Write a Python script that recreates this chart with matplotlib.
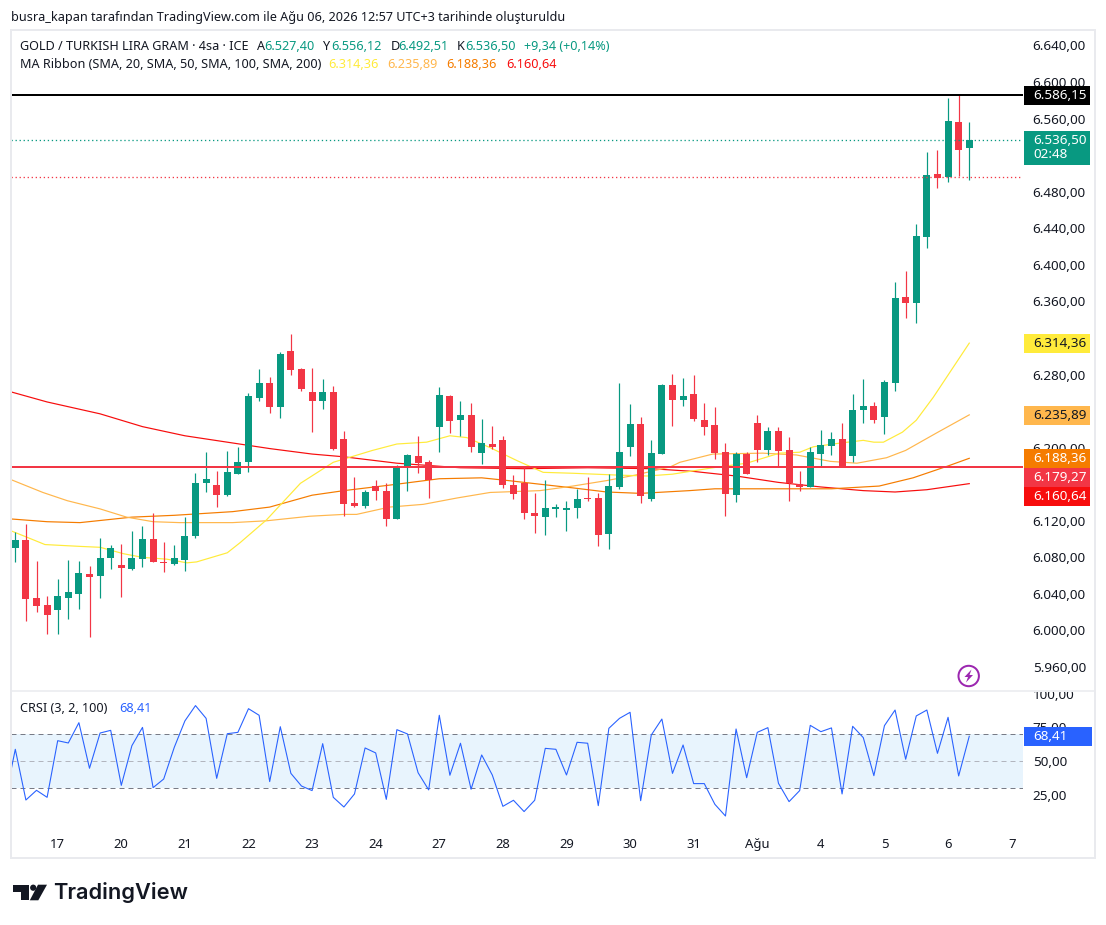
import matplotlib
matplotlib.use("Agg")
import matplotlib.pyplot as plt
from matplotlib.patches import Rectangle, Polygon, Circle
from matplotlib.transforms import Bbox

plt.rcParams['font.family'] = ['Noto Sans', 'DejaVu Sans']

opens = [6090,6099,6035,6028,6022,6035,6040,6062,6060,6079,6072,6067,6078,6100,6075,6073,6077,6103,6161,6159,
         6148,6171,6184,6254,6271,6245,6306,6286,6261,6251,6261,6210,6139,6136,6158,6153,6122,6178,6191,6184,
         6223,6256,6230,6236,6194,6204,6208,6159,6161,6128,6124,6133,6132,6134,6145,6145,6106,6157,6201,6226,
         6144,6193,6269,6252,6259,6230,6225,6195,6148,6193,6227,6197,6218,6197,6160,6157,6193,6202,6210,6191,
         6241,6246,6233,6271,6365,6358,6430,6499,6496,6556,6527.40]
highs = [6108,6116,6076,6038,6056,6077,6076,6070,6101,6093,6095,6109,6114,6128,6097,6093,6124,6172,6195,6175,
         6196,6201,6260,6286,6277,6305,6324,6287,6287,6275,6268,6218,6168,6154,6165,6161,6181,6193,6213,6186,
         6266,6258,6251,6249,6231,6224,6213,6170,6179,6150,6165,6138,6142,6155,6168,6150,6171,6271,6248,6234,
         6208,6270,6281,6276,6280,6249,6244,6205,6195,6195,6236,6223,6223,6212,6175,6201,6219,6217,6227,6259,
         6275,6250,6274,6381,6393,6445,6523,6526,6582,6586.15,6556.12]
lows = [6075,6010,6020,5996,5996,6013,6023,5993,6035,6067,6037,6066,6069,6075,6064,6072,6065,6101,6151,6135,
        6147,6171,6173,6251,6238,6232,6280,6262,6217,6242,6197,6125,6135,6134,6143,6114,6122,6153,6172,6145,
        6195,6216,6213,6195,6182,6199,6156,6144,6122,6107,6104,6124,6109,6123,6142,6092,6089,6155,6191,6139,
        6142,6193,6224,6246,6229,6214,6188,6125,6141,6171,6184,6192,6179,6142,6153,6157,6179,6192,6179,6184,
        6227,6227,6215,6262,6342,6336,6418,6484,6491,6497,6492.51]
closes = [6099,6034,6027,6017,6038,6042,6063,6058,6079,6090,6068,6079,6100,6075,6074,6079,6103,6161,6166,6148,
          6173,6184,6256,6271,6245,6302,6285,6264,6251,6261,6198,6138,6136,6151,6153,6122,6179,6192,6183,6165,
          6258,6229,6236,6201,6205,6201,6159,6149,6128,6125,6134,6135,6134,6144,6144,6104,6158,6195,6226,6147,
          6194,6269,6252,6256,6231,6223,6194,6149,6193,6171,6197,6218,6196,6161,6157,6195,6203,6210,6179,6241,
          6246,6230,6272,6364,6358,6431,6498,6495,6557,6526,6536.50]

ma20_idx = [-0.4,1.1,2.8,6.1,8,10.2,12,14.3,16.2,17.1,20,21.2,23.7,26.9,30,33.7,36,38.8,41,42.6,44.8,47.3,49.8,52.6,
            56.8,59.6,62,65.8,69,72.1,74,75.3,77.8,80,81,81.9,83.7,85,86.6,90]
ma20 = [6109,6102,6094,6092,6091,6084,6080,6078,6074,6075,6085,6096,6121,6161,6184,6197,6204,6206,6213,6211,6200,6186,6173,6172,
        6170,6169,6171,6178,6183,6194,6195,6201,6205,6208,6206,6206,6217,6230,6255,6314.36]
ma50_idx = [-0.4,2.6,4.9,8,10.5,13,15.5,20.5,23.7,27.8,31,32.2,35.3,38.5,41.7,44.8,49.5,52.6,55.8,58.5,61.8,62.7,65.8,70.5,
            73.7,76.9,79.4,82.2,84,86.9,90]
ma50 = [6165,6151,6142,6133,6124,6119,6118,6118,6120,6125,6127,6127,6135,6138,6145,6151,6153,6158,6164,6170,6179,6184,6193,6194,
        6192,6185,6183,6189,6197,6216,6235.89]
ma100_idx = [-0.4,3,6.1,11,15,20.5,24,28,31,35.3,40,44,46.5,49.5,52.6,55.8,59,63.6,66,72,77,81.5,84.7,88,90]
ma100 = [6122,6119,6118,6124,6126,6130,6135,6148,6153,6159,6166,6167,6164,6160,6156,6151.5,6150,6153,6155,6155,6155,6158,6167,6180,6188.36]
ma200_idx = [-0.4,3,8,12,16,20,24,28,31,36,42,48,54,60,64,68,72,76,80,83,86,90]
ma200 = [6261,6250,6237,6223,6213,6206,6199,6193,6190,6183,6178,6177,6178,6177,6174,6169,6162,6157,6153,6151.5,6154,6160.64]

crsi_start = 43.3
crsi = [58.7,21,28.2,23,65.1,63.4,78.5,44.6,70.8,72.8,31.9,61.4,75,30.2,36.6,60.2,79.8,91.2,81.7,37.1,
        70.3,71.3,88.9,84,34.7,75.5,40.8,31.4,28,62.9,23,15.8,25.5,59.7,56,21.5,73.3,70.1,41.3,28.5,
        84,39.4,63.2,29,54.5,39.6,16.3,20.8,12.4,20.8,59.4,58.7,39.6,63.9,63.2,16.8,74.3,81.7,86.2,20.5,
        69.3,81.2,40.8,61.9,33.2,33.2,17.8,9.1,73.8,37.6,71.3,74.8,33.4,19.8,28,76.5,71.8,74.6,25.5,75.8,
        67.4,39.1,76.3,87.9,51.3,83.5,87.9,55.7,82.5,38.9,68.41]

day_idx = [4,10,16,22,28,34,40,46,52,58,64,70,76,82,88,94]
day_labels = ['17','20','21','22','23','24','27','28','29','30','31','Ağu','4','5','6','7']
# 6160, 6240 and 6520 sit fully behind the price labels in the reference, so they are not listed
price_ticks = [5960,6000,6040,6080,6120,6200,6280,6320,6360,6400,6440,6480,6560,6600,6640]
crsi_ticks = [25,50,75,100]
res_line = 6586.15
sup_line = 6179.27
last_close = 6536.50
low_dot_line = 6496

GREEN = '#089981'; RED = '#F23645'; INK = '#131722'; GRAY = '#E9EAEE'
YEL = '#FFEB3B'; LOR = '#FFB74D'; OR = '#F57C00'; RD = '#F70D0D'; BLUE = '#2962FF'
W, H = 1106, 925
PX = 0.72
AXFS = 9.7
TXFS = 9.1

def tr(v, d=2):
    return f"{v:,.{d}f}".replace(",", "X").replace(".", ",").replace("X", ".")

fig = plt.figure(figsize=(W/100, H/100), dpi=100, facecolor='white')
def pane(l, t, r, b, **kw):
    return fig.add_axes([l/W, 1-b/H, (r-l)/W, (b-t)/H], **kw)

ax = pane(11, 30, 1023, 691)
ax.set_xlim(-0.406, 95.07)
ax.set_ylim(5933.8, 6656.9)
xs = list(range(len(opens)))
ax.plot(ma200_idx, ma200, color=RD, lw=1*PX*1.2, zorder=2)
ax.plot(ma100_idx, ma100, color=OR, lw=1*PX*1.2, zorder=2)
ax.plot(ma50_idx, ma50, color=LOR, lw=1*PX*1.2, zorder=2)
ax.plot(ma20_idx, ma20, color=YEL, lw=1*PX*1.2, zorder=2)
cols = [GREEN if c >= o else RED for o, c in zip(opens, closes)]
ax.vlines(xs, lows, highs, colors=cols, lw=1.2*PX, zorder=3)
ax.bar(xs, [abs(c-o) for o, c in zip(opens, closes)], bottom=[min(o, c) for o, c in zip(opens, closes)],
       width=0.66, color=cols, linewidth=0, zorder=4)
ax.axhline(res_line, color='black', lw=2*PX, zorder=5)
ax.axhline(sup_line, color=RED, lw=2*PX, zorder=5)
ax.axhline(last_close, color=GREEN, lw=1.3*PX, ls=(0, (1, 2.1)), zorder=5)
ax.axhline(low_dot_line, color=RED, lw=1.3*PX, ls=(0, (1, 2.1)), zorder=5)
ax.set_xticks([])
ax.yaxis.tick_right()
ax.set_yticks(price_ticks)
ax.set_yticklabels([tr(v) for v in price_ticks])
ax.tick_params(axis='y', length=0, pad=7, labelsize=AXFS, labelcolor=INK)
for lab, v in zip(ax.get_yticklabels(), price_ticks):
    if v in (6000, 6400):
        lab.set_fontweight('medium')
for s in ax.spines.values():
    s.set_visible(False)

cx = pane(11, 692, 1023, 825)
cx.set_xlim(-0.406, 95.07)
cx.set_ylim(2.42, 101.3)
cx.axhspan(30, 70, color='#2196F3', alpha=0.1, lw=0)
cx.axhline(70, color='#787B86', lw=PX, ls=(0, (5, 4)))
cx.axhline(30, color='#787B86', lw=PX, ls=(0, (5, 4)))
cx.axhline(50, color='#B2B5BE', lw=PX, ls=(0, (5, 4)))
cx.plot([-0.4] + xs, [crsi_start] + crsi, color=BLUE, lw=1.1*PX, zorder=3)
cx.yaxis.tick_right()
cx.set_yticks(crsi_ticks)
cx.set_yticklabels([tr(v) for v in crsi_ticks])
cx.tick_params(axis='y', length=0, pad=7, labelsize=AXFS, labelcolor=INK)
clip = Bbox.from_extents(1023, H-825, 1095, H-692)
for lab in cx.get_yticklabels():
    lab.set_clip_box(clip)
    lab.set_clip_on(True)
cx.set_xticks(day_idx)
cx.set_xticklabels(day_labels)
cx.tick_params(axis='x', length=0, pad=9.5, labelsize=AXFS-0.3, labelcolor=INK)
for lab, t in zip(cx.get_xticklabels(), day_labels):
    if t == 'Ağu':
        lab.set_fontweight('bold')
for s in cx.spines.values():
    s.set_visible(False)

ov = fig.add_axes([0, 0, 1, 1], zorder=10)
ov.set_xlim(0, W); ov.set_ylim(H, 0)
ov.axis('off'); ov.patch.set_alpha(0)

# frame
ov.add_patch(Rectangle((11, 30), 1084, 828, fill=False, ec=GRAY, lw=2*PX))
ov.plot([11, 1095], [691, 691], color=GRAY, lw=1.5*PX)

# header
ov.text(11, 17, "busra_kapan tarafından TradingView.com ile Ağu 06, 2026 12:57 UTC+3 tarihinde oluşturuldu",
        fontsize=TXFS, color=INK, va='center')
ly1, ly2 = 47, 65
ov.text(20, ly1, "GOLD / TURKISH LIRA GRAM · 4sa · ICE", fontsize=TXFS, color=INK, va='center')
for x, t, c in [(257, 'A', INK), (264.4, '6.527,40', GREEN), (323, 'Y', INK), (331, '6.556,12', GREEN),
                (390.5, 'D', INK), (398.4, '6.492,51', GREEN), (457, 'K', INK), (465, '6.536,50', GREEN),
                (524.5, '+9,34 (+0,14%)', GREEN)]:
    ov.text(x, ly1, t, fontsize=TXFS, color=c, va='center')
ov.text(20, ly2, "MA Ribbon (SMA, 20, SMA, 50, SMA, 100, SMA, 200)", fontsize=TXFS, color=INK, va='center')
for x, t, c in [(328, '6.314,36', YEL), (387, '6.235,89', LOR), (446.6, '6.188,36', OR), (506, '6.160,64', RD)]:
    ov.text(x, ly2, t, fontsize=TXFS, color=c, va='center')
ov.text(20, 708, "CRSI (3, 2, 100)", fontsize=TXFS, color=INK, va='center')
ov.text(119.5, 708, "68,41", fontsize=TXFS, color=BLUE, va='center')

# price labels
for y0, y1, t, bg, fg in [(86, 104.7, '6.586,15', 'black', 'white'),
                          (334, 352.7, '6.314,36', YEL, INK),
                          (406, 425, '6.235,89', LOR, INK),
                          (449, 468, '6.188,36', OR, 'white'),
                          (468, 487, '6.179,27', RED, 'white'),
                          (487, 506, '6.160,64', RD, 'white')]:
    ov.add_patch(Rectangle((1024, y0), 66, y1-y0, fc=bg, ec='none'))
    ov.text(1033, (y0+y1)/2, t, fontsize=AXFS, color=fg, va='center', fontweight='medium')
ov.add_patch(Rectangle((1024, 131), 66, 34, fc=GREEN, ec='none'))
ov.text(1033, 140, '6.536,50', fontsize=AXFS, color='white', va='center', fontweight='medium')
ov.text(1033, 155, '02:48', fontsize=AXFS, color='white', va='center')
ov.add_patch(Rectangle((1024, 727), 68, 19, fc=BLUE, ec='none'))
ov.text(1033, 736, '68,41', fontsize=AXFS, color='white', va='center', fontweight='medium')

# lightning badge
ov.add_patch(Circle((968.7, 676), 10.2, fill=False, ec='#9C27B0', lw=2*PX))
ov.add_patch(Polygon([(971.5, 669.5), (964.5, 677), (968, 677), (966, 682.5), (973, 675), (969.5, 675)],
                     closed=True, fc='#9C27B0', ec='none'))

# logo
ov.add_patch(Polygon([(13, 884.7), (28.5, 884.7), (28.5, 900.3), (20.7, 900.3), (20.7, 892), (13, 892)],
                     closed=True, fc=INK, ec='none'))
ov.add_patch(Circle((33.2, 887.7), 3.1, fc=INK, ec='none'))
ov.add_patch(Polygon([(38, 884.7), (47, 884.7), (38.3, 900.3), (29.8, 900.3)], closed=True, fc=INK, ec='none'))
ov.text(53, 892.7, "TradingView", fontsize=15.7, color=INK, va='center', family=['Inter', 'DejaVu Sans'], fontweight='semibold')

fig.savefig('out.png', dpi=100, facecolor='white')
